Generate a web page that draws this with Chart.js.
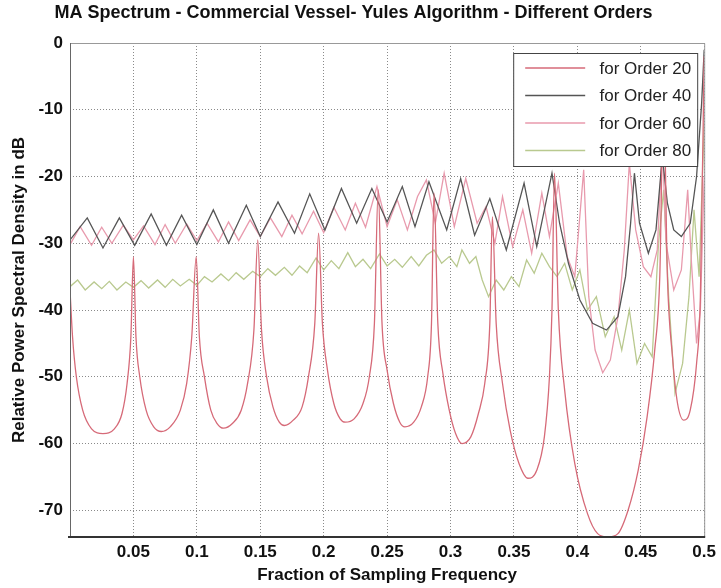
<!DOCTYPE html>
<html>
<head>
<meta charset="utf-8">
<title>MA Spectrum</title>
<script src="https://cdn.jsdelivr.net/npm/chart.js@4.4.1/dist/chart.umd.min.js"></script>
<style>
  body { margin: 0; background: #fff; }
  #wrap { width: 721px; height: 588px; }
</style>
</head>
<body>
<div id="wrap"><canvas id="psdChart" width="721" height="588"></canvas></div>
<script>
// tick labels
const xTickValues = [0.05, 0.1, 0.15, 0.2, 0.25, 0.3, 0.35, 0.4, 0.45, 0.5];
const yTickValues = [0, -10, -20, -30, -40, -50, -60, -70];

// order 20 - deep lobes
const freq20 = [0.000, 0.002, 0.005, 0.010, 0.017, 0.026, 0.035, 0.041, 0.045, 0.048,
  0.050, 0.052, 0.055, 0.060, 0.066, 0.072, 0.079, 0.087, 0.092, 0.096,
  0.0995, 0.102, 0.106, 0.111, 0.116, 0.121, 0.128, 0.135, 0.140, 0.145,
  0.148, 0.151, 0.155, 0.160, 0.165, 0.169, 0.176, 0.183, 0.188, 0.193,
  0.196, 0.199, 0.203, 0.208, 0.213, 0.217, 0.224, 0.231, 0.236, 0.240,
  0.243, 0.246, 0.250, 0.255, 0.260, 0.264, 0.271, 0.277, 0.282, 0.285,
  0.287, 0.290, 0.294, 0.299, 0.304, 0.309, 0.316, 0.322, 0.327, 0.331,
  0.333, 0.336, 0.341, 0.347, 0.354, 0.361, 0.368, 0.374, 0.378, 0.380,
  0.382, 0.385, 0.390, 0.398, 0.408, 0.416, 0.424, 0.432, 0.440, 0.448,
  0.455, 0.461, 0.465, 0.468, 0.471, 0.475, 0.479, 0.484, 0.489, 0.494,
  0.497, 0.500];
const psd20 = [-37, -44, -50, -55, -57.8, -58.5, -57.8, -55.5, -51, -44,
  -32, -44, -50, -55, -57.5, -58.2, -57.5, -55, -51, -44,
  -32, -44, -50, -55, -57, -57.7, -57, -55, -51, -43,
  -29.5, -43, -50, -54.5, -56.8, -57.3, -56.5, -54.5, -50, -42,
  -28.5, -42, -49, -54, -56.3, -56.8, -56.3, -54, -50, -42,
  -22, -42, -49, -54, -56.8, -57.5, -56.8, -54.5, -50, -42,
  -22.5, -42, -49.5, -55, -58.5, -60, -59, -55.5, -51, -42,
  -26, -42, -51, -58, -63, -65.2, -64, -59, -50, -40,
  -19.5, -40, -52, -63, -70.5, -73.5, -74, -73.5, -70, -64,
  -56, -46, -35, -8, -35, -47, -54, -56.5, -55, -48,
  -38, -2];

// order 40 - dark zigzag
const freq40 = [0.000, 0.0136, 0.026, 0.0389, 0.051, 0.064, 0.076, 0.088, 0.100, 0.113,
  0.125, 0.139, 0.150, 0.164, 0.177, 0.189, 0.201, 0.214, 0.226, 0.238,
  0.250, 0.262, 0.272, 0.283, 0.297, 0.308, 0.319, 0.331, 0.344, 0.358,
  0.368, 0.380, 0.386, 0.393, 0.402, 0.412, 0.423, 0.432, 0.438, 0.442,
  0.445, 0.449, 0.456, 0.462, 0.467, 0.471, 0.476, 0.482, 0.489, 0.494,
  0.498, 0.500];
const psd40 = [-29.5, -26.2, -30.7, -26.2, -30.3, -25.6, -30.3, -25.8, -30.2, -25.0,
  -30.0, -24.3, -29.0, -23.8, -28.5, -22.6, -28.0, -21.8, -27.0, -21.8,
  -26.8, -21.5, -27.5, -20.8, -28.0, -20.3, -28.8, -23.3, -31.0, -21.0,
  -30.5, -19.5, -27, -33, -38.5, -42, -43, -41, -35, -27,
  -19.5, -27, -31.5, -28, -17, -24, -28, -29, -27, -20,
  -9, -1];

// order 60 - pink
const freq60 = [0.000, 0.008, 0.017, 0.025, 0.033, 0.042, 0.050, 0.058, 0.067, 0.075,
  0.083, 0.092, 0.100, 0.108, 0.117, 0.125, 0.133, 0.142, 0.150, 0.158,
  0.167, 0.175, 0.183, 0.192, 0.200, 0.208, 0.217, 0.225, 0.233, 0.242,
  0.250, 0.258, 0.266, 0.274, 0.281, 0.288, 0.295, 0.303, 0.312, 0.321,
  0.328, 0.335, 0.341, 0.349, 0.357, 0.364, 0.372, 0.378, 0.385, 0.392,
  0.398, 0.405, 0.409, 0.414, 0.420, 0.426, 0.432, 0.437, 0.441, 0.446,
  0.452, 0.458, 0.463, 0.467, 0.470, 0.476, 0.482, 0.487, 0.490, 0.494,
  0.497, 0.500];
const psd60 = [-30.2, -27.5, -30.3, -27.6, -30.0, -27.3, -29.5, -27.4, -30.2, -27.2,
  -30.0, -27.1, -29.6, -27.0, -29.8, -26.8, -29.6, -26.5, -29.0, -26.2,
  -29.0, -25.8, -28.6, -25.2, -28.4, -24.6, -28.0, -24.0, -27.6, -21.5,
  -27.5, -23.5, -28.0, -23.0, -20.5, -27.0, -19.5, -27.5, -20.3, -27.0,
  -24.5, -30.0, -23.0, -30.5, -25.0, -31.5, -22.5, -29.0, -21.0, -32.0,
  -35.0, -19.0, -38.0, -46.0, -49.4, -47.5, -41.0, -31.0, -18.0, -28.0,
  -33.5, -35.0, -31.0, -15.0, -30.0, -37.0, -34.0, -22.0, -33.0, -45.0,
  -40.0, -20.0];

// order 80 - green ripple
const freq80 = [0.000, 0.006, 0.012, 0.019, 0.025, 0.031, 0.037, 0.044, 0.050, 0.056,
  0.062, 0.069, 0.075, 0.081, 0.087, 0.094, 0.100, 0.106, 0.112, 0.119,
  0.125, 0.131, 0.137, 0.144, 0.150, 0.156, 0.162, 0.169, 0.175, 0.181,
  0.187, 0.194, 0.200, 0.206, 0.212, 0.219, 0.225, 0.231, 0.237, 0.244,
  0.250, 0.256, 0.262, 0.269, 0.275, 0.281, 0.287, 0.293, 0.299, 0.305,
  0.309, 0.315, 0.320, 0.325, 0.330, 0.336, 0.342, 0.348, 0.354, 0.360,
  0.366, 0.372, 0.378, 0.384, 0.390, 0.396, 0.402, 0.408, 0.415, 0.422,
  0.429, 0.435, 0.441, 0.447, 0.453, 0.459, 0.464, 0.468, 0.472, 0.477,
  0.483, 0.488, 0.492, 0.496, 0.500];
const psd80 = [-36.5, -35.5, -37.0, -35.8, -36.8, -35.7, -37.0, -35.8, -36.6, -35.6,
  -36.7, -35.5, -36.6, -35.4, -36.4, -35.4, -36.3, -35.0, -35.8, -34.6,
  -35.6, -34.4, -35.4, -34.2, -35.0, -33.8, -34.8, -33.6, -34.8, -33.4,
  -34.4, -32.2, -34.0, -32.6, -33.8, -31.4, -33.5, -32.4, -33.8, -31.6,
  -33.4, -32.4, -33.6, -32.0, -33.4, -31.8, -31.0, -33.0, -32.0, -33.5,
  -31.0, -33.0, -32.0, -35.5, -38.0, -35.5, -37.0, -35.0, -36.5, -32.5,
  -34.5, -31.5, -33.5, -35.0, -33.0, -37.0, -34.0, -40.0, -38.0, -44.0,
  -41.0, -46.0, -40.0, -48.0, -45.0, -47.0, -30.0, -22.0, -38.0, -52.5,
  -48.0, -38.0, -25.0, -35.0, -12.0];

const seriesLabels = ["for Order 20", "for Order 40", "for Order 60", "for Order 80"];
const seriesColors = ["#d66a78", "#555555", "#e89aad", "#b9c98f"];

function toPoints(xs, ys) {
  return xs.map((x, i) => ({ x: x, y: ys[i] }));
}

const fontFamily = "'Liberation Sans', Arial, sans-serif";

// legend box drawn inside the plot, top right
const boxLegend = {
  id: "boxLegend",
  afterDatasetsDraw(chart) {
    const ctx = chart.ctx;
    const area = chart.chartArea;
    const w = 184, h = 113;
    const x0 = area.right - 191, y0 = area.top + 10;
    ctx.save();
    ctx.fillStyle = "#fff";
    ctx.fillRect(x0, y0, w, h);
    ctx.strokeStyle = "#444";
    ctx.lineWidth = 1;
    ctx.strokeRect(x0 + 0.5, y0 + 0.5, w, h);
    ctx.font = "17px " + fontFamily;
    ctx.textAlign = "right";
    ctx.textBaseline = "middle";
    chart.data.datasets.forEach((ds, i) => {
      const y = y0 + 15 + i * 27.5;
      ctx.strokeStyle = ds.borderColor;
      ctx.lineWidth = 1.3;
      ctx.beginPath();
      ctx.moveTo(x0 + 12, y);
      ctx.lineTo(x0 + 72, y);
      ctx.stroke();
      ctx.fillStyle = "#222";
      ctx.fillText(ds.label, x0 + w - 6, y + 1);
    });
    ctx.restore();
  },
  afterDraw(chart) {
    // plot frame
    const ctx = chart.ctx;
    const a = chart.chartArea;
    ctx.save();
    ctx.strokeStyle = "#999";
    ctx.lineWidth = 1;
    ctx.beginPath();
    ctx.moveTo(a.left, a.top + 0.5);
    ctx.lineTo(a.right + 0.5, a.top + 0.5);
    ctx.lineTo(a.right + 0.5, a.bottom);
    ctx.stroke();
    ctx.strokeStyle = "#666";
    ctx.beginPath();
    ctx.moveTo(a.left + 0.5, a.top);
    ctx.lineTo(a.left + 0.5, a.bottom);
    ctx.stroke();
    ctx.strokeStyle = "#333";
    ctx.lineWidth = 2;
    ctx.beginPath();
    ctx.moveTo(a.left - 2, a.bottom);
    ctx.lineTo(a.right + 1, a.bottom);
    ctx.stroke();
    ctx.restore();
  }
};

const tickFont = { family: fontFamily, size: 17, weight: "bold" };

const psdChart = new Chart(document.getElementById("psdChart"), {
  type: "line",
  data: {
    datasets: [
      { label: seriesLabels[0], data: toPoints(freq20, psd20), borderColor: seriesColors[0], cubicInterpolationMode: "monotone" },
      { label: seriesLabels[1], data: toPoints(freq40, psd40), borderColor: seriesColors[1] },
      { label: seriesLabels[2], data: toPoints(freq60, psd60), borderColor: seriesColors[2] },
      { label: seriesLabels[3], data: toPoints(freq80, psd80), borderColor: seriesColors[3] }
    ]
  },
  options: {
    responsive: false,
    animation: false,
    clip: true,
    layout: { padding: { top: 0, right: 14, bottom: 2, left: 0 } },
    elements: {
      point: { radius: 0 },
      line: { borderWidth: 1.3, tension: 0 }
    },
    plugins: {
      legend: { display: false },
      tooltip: { enabled: false },
      title: {
        display: true,
        text: "MA Spectrum - Commercial Vessel- Yules Algorithm - Different Orders",
        color: "#111",
        font: { family: fontFamily, size: 18, weight: "bold" },
        padding: { top: 2, bottom: 19.4 }
      }
    },
    scales: {
      x: {
        type: "linear",
        min: 0,
        max: 0.5,
        afterBuildTicks: (scale) => { scale.ticks = xTickValues.map((v) => ({ value: v })); },
        afterFit: (scale) => { scale.height = 49; },
        grid: { color: "#8a8a8a", lineWidth: 1, drawTicks: false },
        border: { display: false, dash: [1, 2] },
        ticks: { color: "#111", font: tickFont, padding: 5, maxRotation: 0, callback: (v) => String(+v.toFixed(2)) },
        title: {
          display: true,
          text: "Fraction of Sampling Frequency",
          color: "#111",
          font: { family: fontFamily, size: 17, weight: "bold" },
          padding: { top: 0, bottom: 0 }
        }
      },
      y: {
        min: -74,
        max: 0,
        afterBuildTicks: (scale) => { scale.ticks = yTickValues.map((v) => ({ value: v })); },
        afterFit: (scale) => { scale.width = 70; },
        grid: { color: "#8a8a8a", lineWidth: 1, drawTicks: false },
        border: { display: false, dash: [1, 2] },
        ticks: { color: "#111", font: tickFont, padding: 7 },
        title: {
          display: true,
          text: "Relative Power Spectral Density in dB",
          color: "#111",
          font: { family: fontFamily, size: 17, weight: "bold" },
          padding: { top: 9, bottom: 0 }
        }
      }
    }
  },
  plugins: [boxLegend]
});
</script>
</body>
</html>
